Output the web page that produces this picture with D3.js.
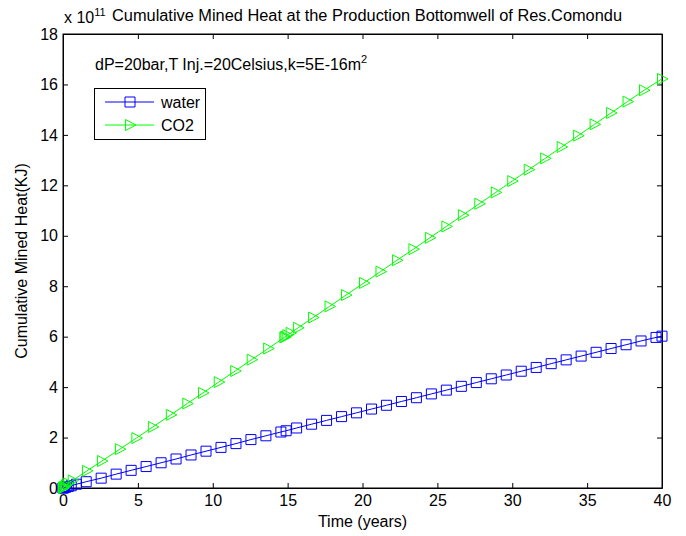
<!DOCTYPE html>
<html><head><meta charset="utf-8">
<script src="https://cdn.jsdelivr.net/npm/d3@7"></script>
<style>body{margin:0;background:#fff}svg{font-family:"Liberation Sans",Arial,sans-serif}</style>
</head><body><svg id="c" width="686" height="536"></svg>
<script>
const waterTime = [0,0.02,0.05,0.1,0.2,0.35,0.55,0.9,1.55,2.55,3.55,4.55,5.55,6.55,7.55,8.55,9.55,10.55,11.55,12.55,13.55,14.55,14.9,15.6,16.6,17.6,18.6,19.6,20.6,21.6,22.6,23.6,24.6,25.6,26.6,27.6,28.6,29.6,30.6,31.6,32.6,33.6,34.6,35.6,36.6,37.6,38.6,39.6,40];
const waterHeat = [0,0.005,0.01,0.02,0.035,0.06,0.09,0.15,0.25,0.39,0.55,0.70,0.85,1.00,1.15,1.31,1.46,1.61,1.76,1.92,2.07,2.22,2.27,2.38,2.53,2.68,2.83,2.98,3.13,3.28,3.43,3.58,3.73,3.88,4.03,4.18,4.33,4.48,4.63,4.78,4.93,5.08,5.23,5.38,5.53,5.68,5.83,5.97,6.02];
const co2Time = [0,0.02,0.05,0.1,0.2,0.35,0.65,1.6,2.6,3.8,4.9,6.0,7.2,8.3,9.35,10.4,11.5,12.6,13.7,14.78,14.85,14.98,15.2,15.7,16.7,17.8,18.9,20.1,21.2,22.3,23.4,24.5,25.6,26.7,27.8,28.9,30.0,31.1,32.2,33.3,34.4,35.5,36.6,37.7,38.8,40];
const co2Heat = [0,0.01,0.03,0.06,0.11,0.18,0.30,0.68,1.07,1.54,1.98,2.42,2.90,3.35,3.77,4.20,4.64,5.09,5.53,5.97,6.00,6.06,6.15,6.35,6.76,7.20,7.65,8.13,8.58,9.03,9.47,9.92,10.37,10.82,11.27,11.72,12.17,12.62,13.07,13.52,13.97,14.42,14.87,15.32,15.77,16.22];
const xTicks = [0,5,10,15,20,25,30,35,40];
const yTicks = [0,2,4,6,8,10,12,14,16,18];
const titleText = "Cumulative Mined Heat at the Production Bottomwell of Res.Comondu";
const noteText = "dP=20bar,T Inj.=20Celsius,k=5E-16m";
const seriesNames = ["water","CO2"];

const FS = 16;
const svg = d3.select("#c");
const L=63, R=662, T=34, B=488;
const x = d3.scaleLinear().domain([0,40]).range([L,R]);
const y = d3.scaleLinear().domain([0,18]).range([B,T]);

svg.append("rect").attr("x",0).attr("y",0).attr("width",686).attr("height",536).attr("fill","#fff");

const tl = 5;
const axB = d3.axisBottom(x).tickValues(xTicks).tickSizeInner(-tl).tickSizeOuter(0).tickPadding(7);
const axT = d3.axisTop(x).tickValues(xTicks).tickSizeInner(-tl).tickSizeOuter(0).tickFormat("");
const axL = d3.axisLeft(y).tickValues(yTicks).tickSizeInner(-tl).tickSizeOuter(0).tickPadding(5);
const axR = d3.axisRight(y).tickValues(yTicks).tickSizeInner(-tl).tickSizeOuter(0).tickFormat("");
function style(g){g.selectAll("path").attr("stroke","#000");g.selectAll("line").attr("stroke","#000");g.selectAll("text").attr("font-size",FS).attr("fill","#000").attr("font-family","Liberation Sans, Arial, sans-serif");}
svg.append("g").attr("transform",`translate(0,${B})`).call(axB).call(style);
svg.append("g").attr("transform",`translate(0,${T})`).call(axT).call(style);
svg.append("g").attr("transform",`translate(${L},0)`).call(axL).call(style);
svg.append("g").attr("transform",`translate(${R},0)`).call(axR).call(style);
svg.append("rect").attr("x",L).attr("y",T).attr("width",R-L).attr("height",B-T).attr("fill","none").attr("stroke","#000").attr("stroke-width",1);

const waterData = waterTime.map((t,i)=>[t,waterHeat[i]]);
const co2Data = co2Time.map((t,i)=>[t,co2Heat[i]]);
const line = d3.line().x(d=>x(d[0])).y(d=>y(d[1]));
const sq = "M-5,-5L5,-5L5,5L-5,5Z";
const tri = "M-4.5,-5.5L-4.5,5.5L6,0Z";

const plot = svg.append("g");
plot.append("path").datum(waterData).attr("d",line).attr("fill","none").attr("stroke","#0000ff").attr("stroke-width",1);
plot.selectAll(".w").data(waterData).join("path").attr("d",sq).attr("transform",d=>`translate(${x(d[0])},${y(d[1])})`).attr("fill","none").attr("stroke","#0000ff").attr("stroke-width",1);
plot.append("path").datum(co2Data).attr("d",line).attr("fill","none").attr("stroke","#00ff00").attr("stroke-width",1);
plot.selectAll(".c").data(co2Data).join("path").attr("d",tri).attr("transform",d=>`translate(${x(d[0])},${y(d[1])})`).attr("fill","none").attr("stroke","#00ff00").attr("stroke-width",1);

const tt = svg.append("text").attr("x",64).attr("y",23).attr("font-size",FS).attr("fill","#000");
tt.append("tspan").text("x 10");
tt.append("tspan").attr("font-size",11).attr("dy",-7).text("11");
svg.append("text").attr("x",367).attr("y",21).attr("text-anchor","middle").attr("font-size",FS).attr("fill","#000").attr("textLength",510).attr("lengthAdjust","spacingAndGlyphs").text(titleText);

const nt = svg.append("text").attr("x",95).attr("y",70).attr("font-size",FS).attr("fill","#000");
nt.append("tspan").text(noteText);
nt.append("tspan").attr("font-size",11).attr("dy",-7).text("2");

svg.append("text").attr("x",(L+R)/2).attr("y",527).attr("text-anchor","middle").attr("font-size",FS).attr("fill","#000").text("Time (years)");
svg.append("text").attr("transform",`translate(27,${(T+B)/2}) rotate(-90)`).attr("text-anchor","middle").attr("font-size",FS).attr("fill","#000").text("Cumulative Mined Heat(KJ)");

const lg = svg.append("g");
lg.append("rect").attr("x",94.5).attr("y",88.5).attr("width",111).attr("height",51).attr("fill","#fff").attr("stroke","#000");
const rows=[{n:seriesNames[0],c:"#0000ff",m:sq,y:102},{n:seriesNames[1],c:"#00ff00",m:tri,y:125}];
rows.forEach(r=>{
  lg.append("line").attr("x1",105).attr("x2",154).attr("y1",r.y).attr("y2",r.y).attr("stroke",r.c);
  lg.append("path").attr("d",r.m).attr("transform",`translate(130,${r.y})`).attr("fill","none").attr("stroke",r.c);
  lg.append("text").attr("x",161).attr("y",r.y+6).attr("font-size",FS).attr("fill","#000").text(r.n);
});
</script></body></html>
